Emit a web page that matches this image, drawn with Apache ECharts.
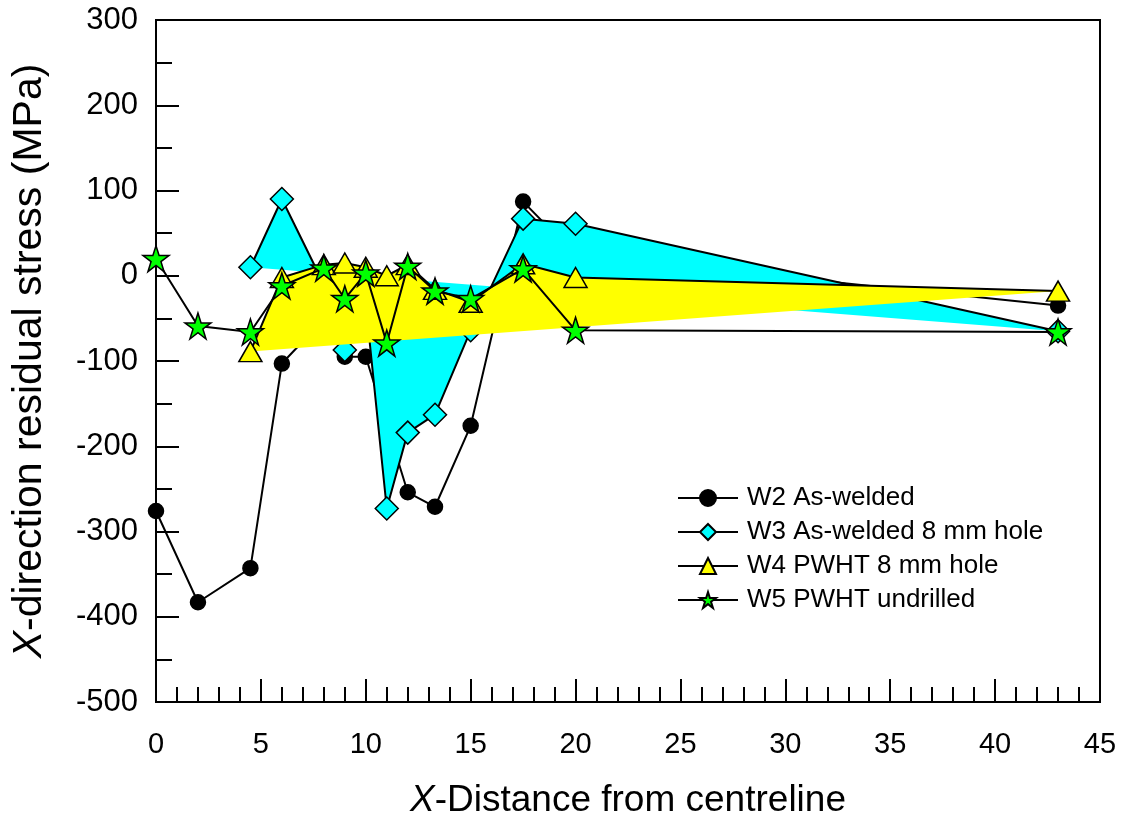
<!DOCTYPE html>
<html>
<head>
<meta charset="UTF-8">
<title>X-direction residual stress</title>
<script src="https://cdn.jsdelivr.net/npm/echarts@6/dist/echarts.min.js"></script>
<style>
    html, body { margin: 0; padding: 0; background: #fff; }
    #chart { width: 1124px; height: 821px; }
</style>
</head>
<body>
<div id="chart"></div>
<script>
    // data
    const w2X = [0, 2, 4.5, 6, 8, 9, 10, 12, 13.3, 15, 17.5, 20, 43];
    const w2Y = [-276, -383, -343, -103, -51, -95, -95, -254, -271, -176, 87, 24, -35];

    const w3X = [4.5, 6, 8, 9, 10, 11, 12, 13.3, 15, 17.5, 20, 43];
    const w3Y = [10, 90, -10, -87, -33, -273, -184, -163, -64, 67, 61, -65];

    const w4X = [4.5, 6, 8, 9, 10, 11, 12, 13.3, 15, 17.5, 20, 43];
    const w4Y = [-89, -2, 13, 15, 10, 0, 13, -16, -31, 14, -2, -18];

    const w5X = [0, 2, 4.5, 6, 8, 9, 10, 11, 12, 13.3, 15, 17.5, 20, 43];
    const w5Y = [20, -59, -66, -12, 9, -27, 3, -79, 11, -18, -27, 8, -64, -66];

    const seriesNames = ['W2 As-welded', 'W3 As-welded 8 mm hole', 'W4 PWHT 8 mm hole', 'W5 PWHT undrilled'];

    const FONT = "'Liberation Sans', Arial, sans-serif";
    const STAR = 'path://M50,0 L62,36 L100,36 L69,58 L81,95 L50,72 L19,95 L31,58 L0,36 L38,36 Z';

    const pairs = (xs, ys) => xs.map((x, i) => [x, ys[i]]);

    // filled polygon through the points of one series, closed back to its first point
    function areaSeries(xs, ys, color, z) {
        return {
            type: 'custom',
            silent: true,
            z: z,
            clip: true,
            data: [[xs[0], ys[0]]],
            renderItem: function (params, api) {
                return {
                    type: 'polygon',
                    shape: { points: xs.map((x, i) => api.coord([x, ys[i]])) },
                    style: { fill: color, stroke: null }
                };
            }
        };
    }

    function lineSeries(name, xs, ys, symbol, size, fill, z) {
        return {
            name: name,
            type: 'line',
            z: z,
            data: pairs(xs, ys),
            symbol: symbol,
            symbolSize: size,
            showAllSymbol: true,
            lineStyle: { color: '#000', width: 2 },
            itemStyle: { color: fill, borderColor: '#000', borderWidth: 1.5 },
            emphasis: { disabled: true }
        };
    }

    const chart = echarts.init(document.getElementById('chart'));
    chart.setOption({
        animation: false,
        textStyle: { fontFamily: FONT },
        grid: {
            left: 156, top: 20, right: 24, bottom: 119,
            outerBoundsMode: 'none',
            containLabel: false,
            show: true, borderColor: '#000', borderWidth: 2
        },
        legend: {
            orient: 'vertical',
            left: 672, top: 480,
            itemWidth: 60, itemHeight: 20, itemGap: 8,
            data: seriesNames,
            textStyle: { fontSize: 26, color: '#000', fontFamily: FONT, padding: [0, 0, 0, 4] }
        },
        xAxis: {
            type: 'value',
            min: 0, max: 45, interval: 5,
            name: '{i|X}-Distance from centreline',
            nameLocation: 'middle',
            nameGap: 80,
            nameTextStyle: {
                fontSize: 37, color: '#000', fontFamily: FONT,
                rich: { i: { fontSize: 37, fontStyle: 'italic', fontFamily: FONT, color: '#000' } }
            },
            axisLine: { onZero: false, lineStyle: { color: '#000', width: 2 } },
            axisTick: { inside: true, length: 23, lineStyle: { color: '#000', width: 2 } },
            minorTick: { show: true, splitNumber: 5, length: 15, lineStyle: { color: '#000', width: 2 } },
            axisLabel: { fontSize: 29, color: '#000', margin: 28, fontFamily: FONT },
            splitLine: { show: false }
        },
        yAxis: {
            type: 'value',
            min: -500, max: 300, interval: 100,
            name: '{i|X}-direction residual stress (MPa)',
            nameLocation: 'middle',
            nameGap: 106,
            nameTextStyle: {
                fontSize: 41, color: '#000', fontFamily: FONT,
                rich: { i: { fontSize: 41, fontStyle: 'italic', fontFamily: FONT, color: '#000' } }
            },
            axisLine: { show: true, onZero: false, lineStyle: { color: '#000', width: 2 } },
            axisTick: { inside: true, length: 23, lineStyle: { color: '#000', width: 2 } },
            minorTick: { show: true, splitNumber: 2, length: 16, lineStyle: { color: '#000', width: 2 } },
            axisLabel: { fontSize: 31, color: '#000', margin: 18, fontFamily: FONT },
            splitLine: { show: false }
        },
        series: [
            lineSeries(seriesNames[0], w2X, w2Y, 'circle', 15, '#000', 2),
            areaSeries(w3X, w3Y, '#00ffff', 3),
            lineSeries(seriesNames[1], w3X, w3Y, 'diamond', 23, '#00ffff', 4),
            areaSeries(w4X, w4Y, '#ffff00', 5),
            lineSeries(seriesNames[2], w4X, w4Y, 'triangle', [23, 20], '#ffff00', 6),
            lineSeries(seriesNames[3], w5X, w5Y, STAR, 26, '#00ff00', 7)
        ]
    });
</script>
</body>
</html>
